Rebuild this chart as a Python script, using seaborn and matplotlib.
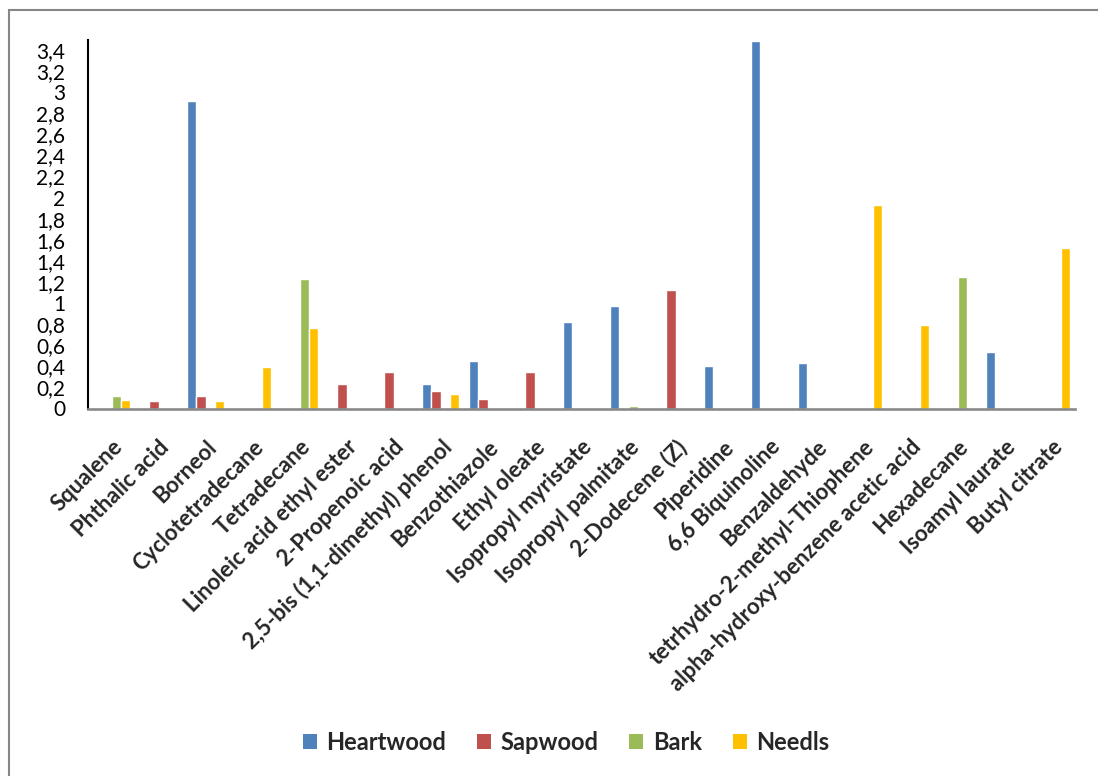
import numpy as np
import pandas as pd
import matplotlib
matplotlib.use("Agg")
import matplotlib.pyplot as plt
from matplotlib.patches import Rectangle, Patch
from matplotlib.ticker import FixedLocator, FixedFormatter
import seaborn as sns

categories = [
    "Squalene", "Phthalic acid", "Borneol", "Cyclotetradecane", "Tetradecane",
    "Linoleic acid ethyl ester", "2-Propenoic acid", "2,5-bis (1,1-dimethyl) phenol",
    "Benzothiazole", "Ethyl oleate", "Isopropyl myristate", "Isopropyl palmitate",
    "2-Dodecene (Z)", "Piperidine", "6,6 Biquinoline", "Benzaldehyde",
    "tetrhydro-2-methyl-Thiophene", "alpha-hydroxy-benzene acetic acid",
    "Hexadecane", "Isoamyl laurate", "Butyl citrate",
]
heartwood = [0, 0, 2.92, 0, 0, 0, 0, 0.23, 0.45, 0, 0.82, 0.97, 0, 0.40, 3.49, 0.43, 0, 0, 0, 0.54, 0]
sapwood   = [0, 0.07, 0.12, 0, 0, 0.23, 0.35, 0.17, 0.09, 0.35, 0, 0, 1.12, 0, 0, 0, 0, 0, 0, 0, 0]
bark      = [0.12, 0, 0, 0, 1.23, 0, 0, 0, 0, 0, 0, 0.02, 0, 0, 0, 0, 0, 0, 1.25, 0, 0]
needls    = [0.08, 0, 0.07, 0.39, 0.76, 0, 0, 0.14, 0, 0, 0, 0, 0, 0, 0, 0, 1.93, 0.79, 0, 0, 1.52]
series_names = ["Heartwood", "Sapwood", "Bark", "Needls"]
series_colors = ["#4F81BD", "#C0504D", "#9BBB59", "#FFC000"]
y_ticks = [0, 0.2, 0.4, 0.6, 0.8, 1, 1.2, 1.4, 1.6, 1.8, 2, 2.2, 2.4, 2.6, 2.8, 3, 3.2, 3.4]
y_tick_labels = ["0", "0,2", "0,4", "0,6", "0,8", "1", "1,2", "1,4", "1,6", "1,8",
                 "2", "2,2", "2,4", "2,6", "2,8", "3", "3,2", "3,4"]

rows = []
for name, vals in zip(series_names, [heartwood, sapwood, bark, needls]):
    for c, v in zip(categories, vals):
        rows.append({"compound": c, "series": name, "value": v})
df = pd.DataFrame(rows)

sns.set_style("white")
plt.rcParams["font.family"] = ["Lato", "DejaVu Sans"]

fig = plt.figure(figsize=(10.98, 7.76), dpi=100)
ax = fig.add_axes([88 / 1098, 1 - 408.5 / 776, 987 / 1098, 369 / 776])

sns.barplot(data=df, x="compound", y="value", hue="series", order=categories,
            hue_order=series_names, palette=series_colors, width=0.8,
            saturation=1, edgecolor="white", linewidth=1.0, ax=ax, legend=False)

ax.set_xlim(-0.5, len(categories) - 0.5)
ax.set_ylim(0, 3.5)
ax.yaxis.set_major_locator(FixedLocator(y_ticks))
ax.yaxis.set_major_formatter(FixedFormatter(y_tick_labels))
ax.tick_params(axis="y", length=0, pad=16.5, labelsize=15, colors="black")
ax.set_xticks(range(len(categories)))
ax.set_xticklabels(categories, rotation=45, ha="right", va="top",
                   rotation_mode="anchor", fontweight="bold", fontsize=16)
ax.tick_params(axis="x", length=0, pad=20)
ax.set_xlabel("")
ax.set_ylabel("")
ax.grid(False)

for s in ["top", "right"]:
    ax.spines[s].set_visible(False)
ax.spines["left"].set_color("black")
ax.spines["left"].set_linewidth(1.5)
ax.spines["bottom"].set_color("#898989")
ax.spines["bottom"].set_linewidth(1.9)
for s in ax.spines.values():
    s.set_zorder(5)

handles = [Patch(facecolor=c, edgecolor="none") for c in series_colors]
fig.legend(handles, series_names, loc="center", ncol=4,
           bbox_to_anchor=(566 / 1098, 1 - 742 / 776), frameon=False,
           prop={"weight": "bold", "size": 17}, handlelength=0.6,
           handleheight=0.6, handletextpad=0.4, columnspacing=1.3)

fig.add_artist(Rectangle((8.5 / 1098, -0.05), 1.2, 1 - 10 / 776 + 0.05,
                         transform=fig.transFigure, fill=False,
                         edgecolor="#868686", linewidth=1.5, clip_on=False))

fig.savefig("out.png", dpi=100, facecolor="white")
